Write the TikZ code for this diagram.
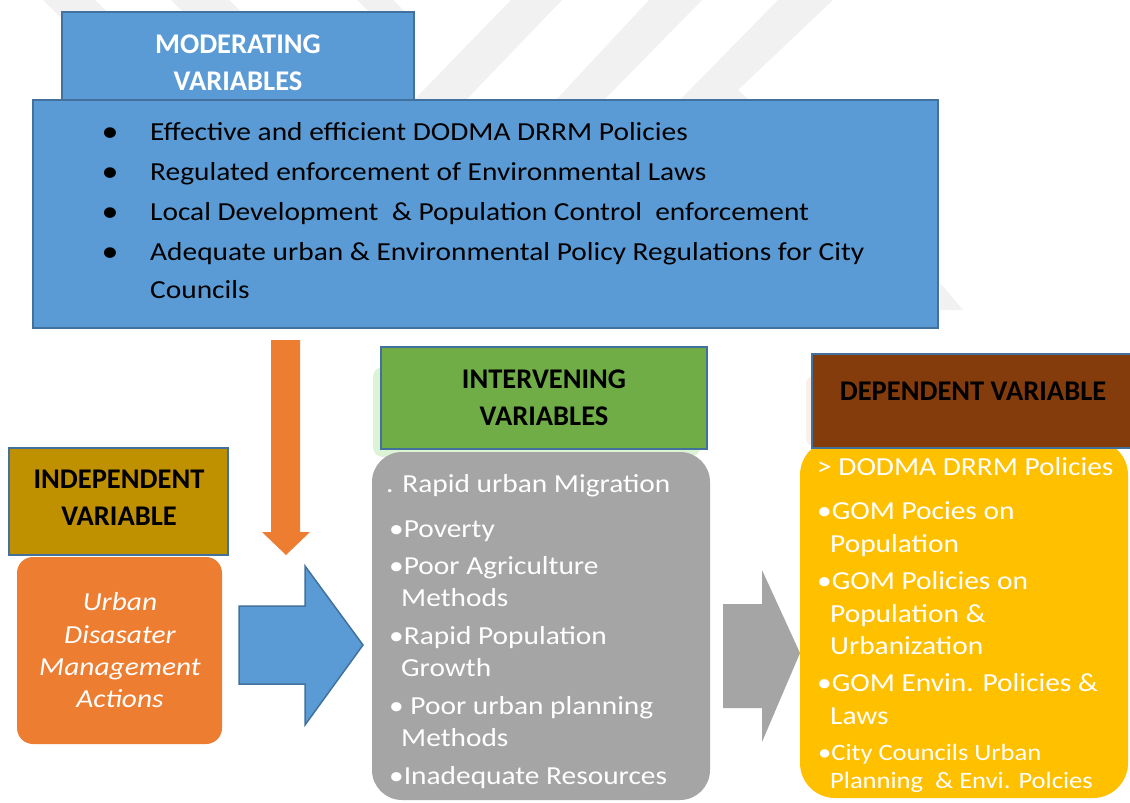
\documentclass[tikz,border=0pt]{standalone}
\usepackage{fontspec}
\setmainfont{Carlito}
\newfontfamily\bodyf{Carlito}[FakeStretch=1.13]
\definecolor{modblue}{HTML}{5B9BD5}
\definecolor{edgeblue}{HTML}{41719C}
\definecolor{orng}{HTML}{ED7D31}
\definecolor{gold}{HTML}{BF9000}
\definecolor{grn}{HTML}{70AD47}
\definecolor{lightgrn}{HTML}{DDF3D5}
\definecolor{gry}{HTML}{A5A5A5}
\definecolor{brwn}{HTML}{843C0C}
\definecolor{yel}{HTML}{FFC000}
\definecolor{wm}{HTML}{F1F1F1}
\definecolor{pinkish}{HTML}{FBEFEC}
\tikzset{
  box/.style={draw=edgeblue, line width=1.5pt, inner sep=0pt, outer sep=0pt, anchor=north west},
  plainbox/.style={inner sep=0pt, outer sep=0pt, anchor=north west},
  hdr/.style={font=\fontsize{28.5}{34}\selectfont\bfseries, anchor=base, inner sep=0pt},
  txt/.style={font=\bodyf\fontsize{26}{30}\selectfont, anchor=base west, inner sep=0pt, text=white},
  smalltxt/.style={font=\bodyf\fontsize{23.5}{28}\selectfont, anchor=base west, inner sep=0pt, text=white},
  itxt/.style={font=\bodyf\itshape\fontsize{26}{30}\selectfont, anchor=base, inner sep=0pt, text=white},
}
\begin{document}
\begin{tikzpicture}[x=1pt,y=-1pt]
\useasboundingbox (0,0) rectangle (1130,803);
\clip (0,0) rectangle (1130,803);
\fill[white] (0,0) rectangle (1130,803);
% faint watermark stripes
\fill[wm] (43,0) -- (95,0) -- (195,100) -- (143,100) -- cycle;
\fill[wm] (171,0) -- (229,0) -- (329,100) -- (271,100) -- cycle;
\fill[wm] (357,0) -- (393,0) -- (405,12) -- (369,12) -- cycle;
\fill[wm] (511,0) -- (562,0) -- (466,100) -- (414,100) -- cycle;
\fill[wm] (649,0) -- (702,0) -- (604,100) -- (556,100) -- cycle;
\fill[wm] (778,0) -- (833,0) -- (738,90) -- (749,100) -- (680,100) -- cycle;
\fill[wm] (940,283) -- (963,310) -- (940,310) -- cycle;

% moderating variables
\node[box, fill=modblue, minimum width=352pt, minimum height=88pt] (modhead) at (62,12) {};
\node[box, fill=modblue, minimum width=905pt, minimum height=228pt] (modmain) at (33,100) {};
\node[hdr, text=white] (modt1) at (238,53) {MODERATING};
\node[hdr, text=white] (modt2) at (238,90) {VARIABLES};
\foreach \i/\yy/\lbl in {1/140/{Effective and efficient DODMA DRRM Policies},
                         2/180/{Regulated enforcement of Environmental Laws},
                         3/220/{Local Development\ \ \& Population Control\ \ enforcement},
                         4/260/{Adequate urban \& Environmental Policy Regulations for City}}{
  \node[txt, text=black, font=\bodyf\fontsize{30}{30}\selectfont, anchor=base] (mb\i) at (110,\yy+1) {•};
  \node[txt, text=black] (mt\i) at (150,\yy) {\lbl};
}
\node[txt, text=black] (mt5) at (150,298) {Councils};

% orange down arrow
\fill[orng] (271,340) -- (300,340) -- (300,532) -- (310,532) -- (286,555) -- (262,532) -- (271,532) -- cycle;

% independent variable
\node[box, fill=gold, minimum width=219pt, minimum height=107pt] (indhead) at (9,448) {};
\node[hdr] (indt1) at (119,488) {INDEPENDENT};
\node[hdr] (indt2) at (119,525) {VARIABLE};
\node[plainbox, fill=orng, rounded corners=16pt, minimum width=205pt, minimum height=187pt] (indbox) at (17,557) {};
\node[itxt] (ia1) at (120,610) {Urban};
\node[itxt] (ia2) at (120,643) {Disasater};
\node[itxt] (ia3) at (120,675) {Management};
\node[itxt] (ia4) at (120,707) {Actions};

% blue right arrow
\filldraw[fill=modblue, draw=edgeblue, line width=1.5pt, line join=miter]
  (239,606) -- (305,606) -- (305,566) -- (363,645) -- (305,725) -- (305,684) -- (239,684) -- cycle;

% intervening variables
\node[plainbox, fill=lightgrn, rounded corners=10pt, minimum width=327pt, minimum height=90pt] (intshadow) at (373,367) {};
\node[plainbox, fill=gry, rounded corners=30pt, minimum width=338pt, minimum height=348pt] (intbox) at (372,452) {};
\node[box, fill=grn, minimum width=326pt, minimum height=102pt] (inthead) at (381,347) {};
\node[hdr] (intt1) at (544,388) {INTERVENING};
\node[hdr] (intt2) at (544,425) {VARIABLES};
\foreach \i/\xx/\yy/\lbl in {1/386/492/{. Rapid urban Migration},
                             2/389/537/{•Poverty},
                             3/389/574/{•Poor Agriculture},
                             4/401/606/{Methods},
                             5/389/644/{•Rapid Population},
                             6/401/676/{Growth},
                             7/389/714/{•\ Poor urban planning},
                             8/401/746/{Methods},
                             9/389/784/{•Inadequate Resources}}{
  \node[txt] (it\i) at (\xx,\yy) {\lbl};
}

% gray arrow
\fill[gry] (723,604) -- (762,604) -- (762,570) -- (800,653) -- (762,742) -- (762,708) -- (723,708) -- cycle;

% dependent variable
\node[plainbox, fill=pinkish, rounded corners=8pt, minimum width=20pt, minimum height=70pt] (depshadow) at (806,376) {};
\node[plainbox, fill=yel, rounded corners=35pt, minimum width=328pt, minimum height=358pt] (depbox) at (800,440) {};
\node[box, fill=brwn, minimum width=330pt, minimum height=94pt] (dephead) at (812,354) {};
\node[hdr] (dept) at (973,400) {DEPENDENT VARIABLE};
\foreach \i/\xx/\yy/\lbl in {1/817/475/{> DODMA DRRM Policies},
                             2/817/519/{•GOM Pocies on},
                             3/830/552/{Population},
                             4/817/589/{•GOM Policies on},
                             5/830/622/{Population \&},
                             6/830/654/{Urbanization},
                             7/817/691/{•GOM Envin. Policies \&},
                             8/830/724/{Laws}}{
  \node[txt] (dt\i) at (\xx,\yy) {\lbl};
}
\node[smalltxt] (dt9) at (818,760) {•City Councils Urban};
\node[smalltxt] (dt10) at (830,788) {Planning\ \ \& Envi. Polcies};
\end{tikzpicture}
\end{document}
